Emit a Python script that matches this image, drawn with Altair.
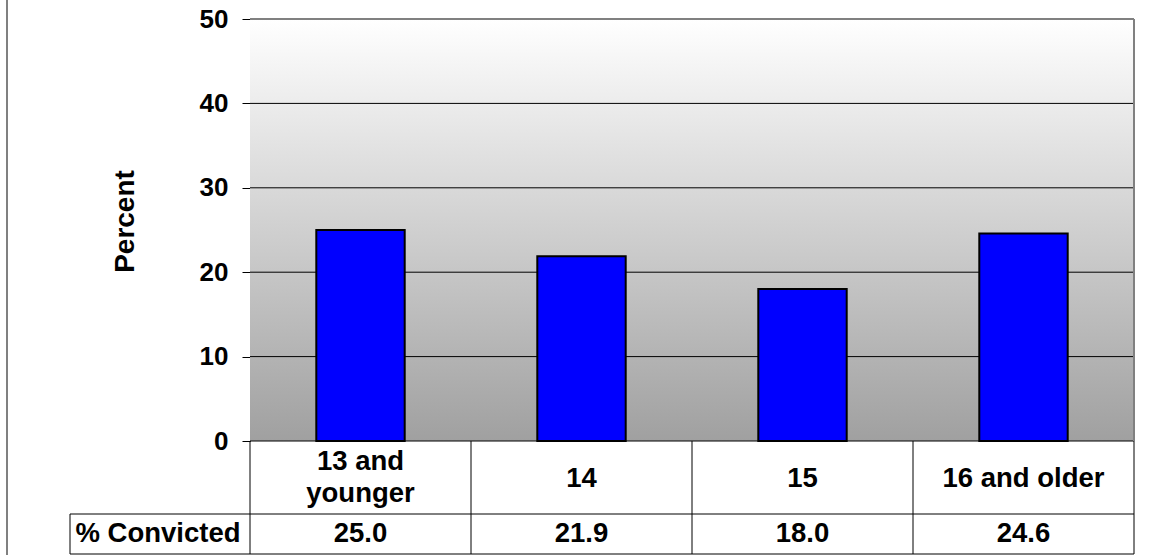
import altair as alt
import pandas as pd

categories = ["13 and younger", "14", "15", "16 and older"]
labels = ["13 and\nyounger", "14", "15", "16 and older"]
values = [25.0, 21.9, 18.0, 24.6]
value_text = ["25.0", "21.9", "18.0", "24.6"]
y_ticks = [0, 10, 20, 30, 40, 50]
grid_values = [0, 10, 20, 30, 40]
row_label = "% Convicted"

W, H = 884, 422
FONT = "Liberation Sans"
TFS = 27.5

df = pd.DataFrame({"cat": categories, "label": labels, "val": values, "txt": value_text})
df["multi"] = df["label"].str.contains("\n")
grid_df = pd.DataFrame({"g": grid_values})
one = pd.DataFrame({"a": [0]})

xs = alt.Scale(domain=categories, paddingInner=0, paddingOuter=0)
ys = alt.Scale(domain=[0, 50], nice=False)

base = alt.Chart(df)

background = alt.Chart(one).mark_rect(
    color=alt.Gradient(
        gradient="linear",
        stops=[alt.GradientStop(color="#ffffff", offset=0),
               alt.GradientStop(color="#a0a0a0", offset=1)],
        x1=0, x2=0, y1=0, y2=1,
    )
).encode(
    x=alt.value(0), x2=alt.value(W),
    y=alt.datum(50, scale=ys, type="quantitative"), y2=alt.datum(0),
)

grid = alt.Chart(grid_df).mark_rule(color="black", strokeWidth=1).encode(
    y=alt.Y("g:Q", scale=ys,
            axis=alt.Axis(values=y_ticks, title="Percent", grid=False,
                          domainColor="black", domainWidth=1,
                          tickColor="black", tickSize=8, tickWidth=1,
                          labelFont=FONT, labelFontSize=26, labelFontWeight="bold",
                          labelColor="black", labelPadding=14,
                          titleFont=FONT, titleFontSize=28, titleFontWeight="bold",
                          titleColor="black", titleX=-125, titleY=202,
                          titleAlign="center", titleBaseline="middle", titleAngle=270)),
    x=alt.value(0), x2=alt.value(W),
)

bars = base.mark_bar(color="#0000ff", stroke="black", strokeWidth=2,
                     width=alt.RelativeBandSize(0.4)).encode(
    x=alt.X("cat:N", scale=xs, axis=None, sort=categories),
    y=alt.Y("val:Q", scale=ys),
)

gray_rule = dict(color="#808080", strokeWidth=2)
border_top = alt.Chart(one).mark_rule(**gray_rule).encode(
    x=alt.value(0), x2=alt.value(W), y=alt.value(0))
border_right = alt.Chart(one).mark_rule(**gray_rule).encode(
    x=alt.value(W), y=alt.value(0), y2=alt.value(H))
outer_left = alt.Chart(one).mark_rule(**gray_rule).encode(
    x=alt.value(-243), y=alt.value(-19), y2=alt.value(540))

# table grid
vlines = base.mark_rule(color="black", strokeWidth=1).encode(
    x=alt.X("cat:N", scale=xs, bandPosition=0, sort=categories),
    y=alt.value(H), y2=alt.value(535),
)
vright = alt.Chart(one).mark_rule(color="black", strokeWidth=1).encode(
    x=alt.value(W), y=alt.value(H), y2=alt.value(535))
vleft = alt.Chart(one).mark_rule(color="black", strokeWidth=1).encode(
    x=alt.value(-180), y=alt.value(495), y2=alt.value(535))
hmid = alt.Chart(one).mark_rule(color="black", strokeWidth=1).encode(
    x=alt.value(-180), x2=alt.value(W), y=alt.value(495))
hbot = alt.Chart(one).mark_rule(color="black", strokeWidth=1).encode(
    x=alt.value(-180), x2=alt.value(W), y=alt.value(535))

text_style = dict(font=FONT, fontSize=TFS, fontWeight="bold", color="black",
                  baseline="middle", align="center")

cat_text_single = base.transform_filter("!datum.multi").mark_text(**text_style).encode(
    x=alt.X("cat:N", scale=xs, sort=categories),
    y=alt.value(460),
    text="label:N",
)
cat_text_multi = base.transform_filter("datum.multi").mark_text(
    lineBreak="\n", lineHeight=32, **text_style).encode(
    x=alt.X("cat:N", scale=xs, sort=categories),
    y=alt.value(443),
    text="label:N",
)
val_text = base.mark_text(**text_style).encode(
    x=alt.X("cat:N", scale=xs, sort=categories),
    y=alt.value(514.5),
    text="txt:N",
)
row_text = alt.Chart(pd.DataFrame({"t": [row_label]})).mark_text(**text_style).encode(
    x=alt.value(-92), y=alt.value(514.5), text="t:N")

chart = alt.layer(
    background, grid, bars, border_top, border_right, outer_left,
    vlines, vright, vleft, hmid, hbot,
    cat_text_single, cat_text_multi, val_text, row_text,
).properties(
    width=W, height=H,
    autosize=alt.AutoSizeParams(type="none"),
    padding={"left": 250, "top": 19, "right": 17, "bottom": 114},
    background="white",
).configure_view(stroke=None)

chart.save("out.html", embed_options={"renderer": "svg", "actions": False})
